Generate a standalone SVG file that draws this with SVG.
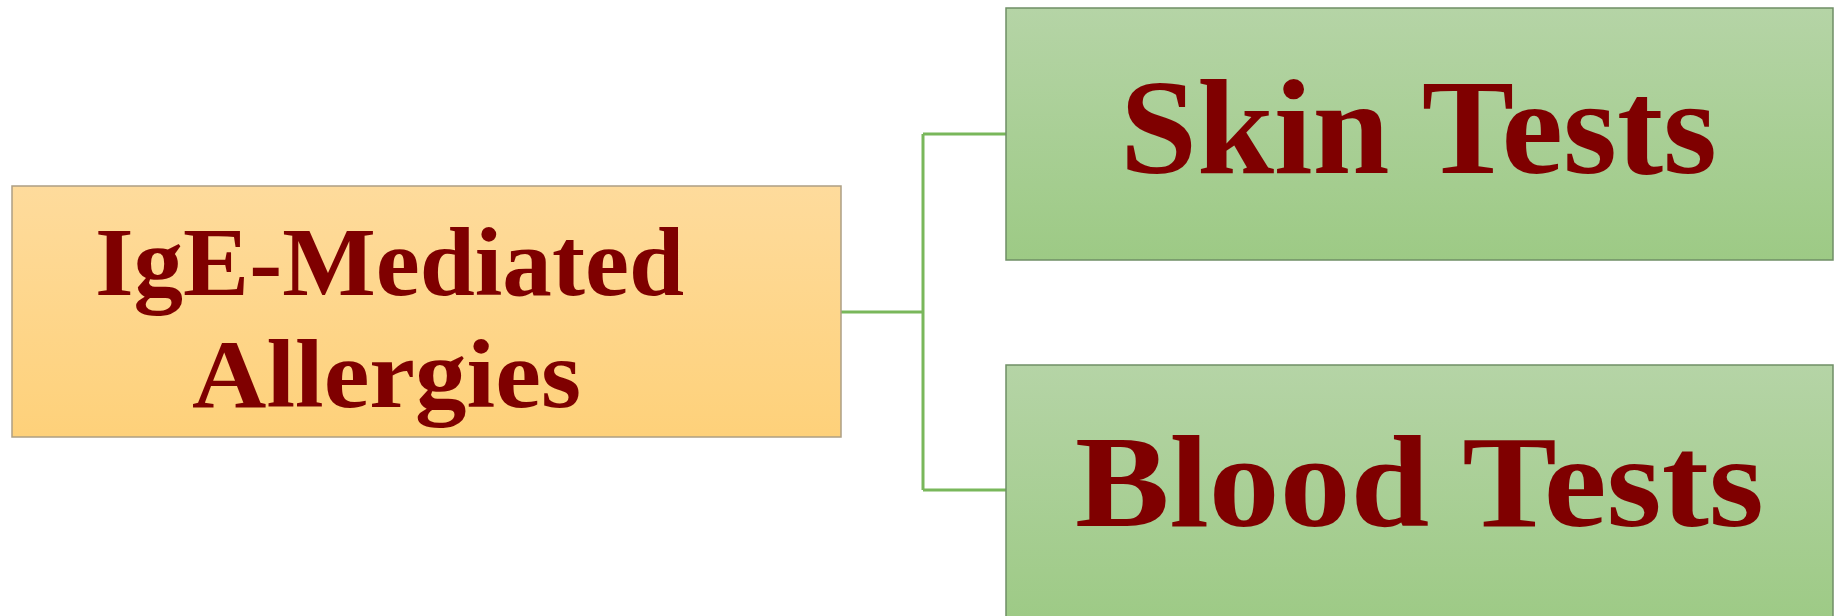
<svg xmlns="http://www.w3.org/2000/svg" width="1839" height="616" viewBox="0 0 1839 616">
<defs>
<linearGradient id="gOrange" x1="0" y1="0" x2="0" y2="1">
<stop offset="0" stop-color="#fedb9c"/>
<stop offset="1" stop-color="#fed17a"/>
</linearGradient>
<linearGradient id="gGreen" x1="0" y1="0" x2="0" y2="1">
<stop offset="0" stop-color="#b5d4a6"/>
<stop offset="1" stop-color="#9dca85"/>
</linearGradient>
<style>
.lbl{font-family:"Liberation Serif","DejaVu Serif",serif;font-weight:bold;fill:#7f0000}
.conn{fill:none;stroke:#79b75b;stroke-width:3}
</style>
</defs>
<rect width="1839" height="616" fill="#ffffff"/>
<g id="connectors">
<path class="conn" d="M841 312 H923 M923 134 V490 M923 134 H1006 M923 490 H1006"/>
</g>
<g id="node-ige">
<rect x="12" y="186" width="829" height="251" fill="url(#gOrange)" stroke="#ad9f84" stroke-width="1.5"/>
<text class="lbl" x="95" y="295" font-size="97" textLength="589" lengthAdjust="spacingAndGlyphs">IgE-Mediated</text>
<text class="lbl" x="192" y="407" font-size="97" textLength="389" lengthAdjust="spacingAndGlyphs">Allergies</text>
</g>
<g id="node-skin">
<rect x="1006" y="8" width="827" height="252" fill="url(#gGreen)" stroke="#6f8e66" stroke-width="1.5"/>
<text class="lbl" x="1120" y="173" font-size="136" textLength="597" lengthAdjust="spacingAndGlyphs">Skin Tests</text>
</g>
<g id="node-blood">
<rect x="1006" y="365" width="827" height="260" fill="url(#gGreen)" stroke="#6f8e66" stroke-width="1.5"/>
<text class="lbl" x="1075" y="526" font-size="132" textLength="689" lengthAdjust="spacingAndGlyphs">Blood Tests</text>
</g>
</svg>
